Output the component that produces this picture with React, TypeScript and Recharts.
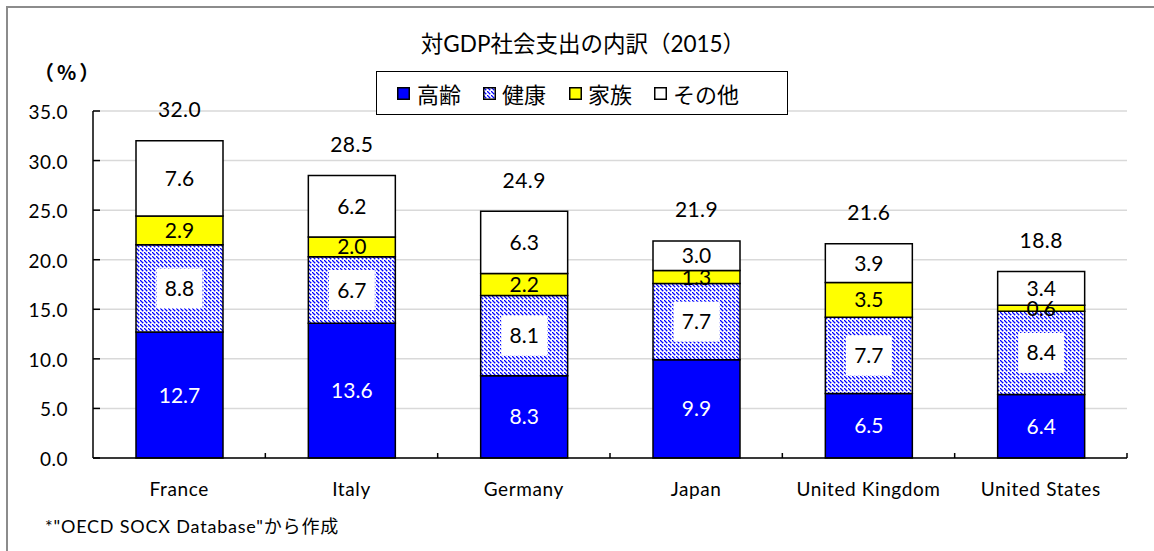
import React from 'react';
import { BarChart, Bar, XAxis, YAxis, CartesianGrid, LabelList } from 'recharts';

// 対GDP社会支出の内訳（2015）, % of GDP
const categories = ['France', 'Italy', 'Germany', 'Japan', 'United Kingdom', 'United States'];
const elderly = [12.7, 13.6, 8.3, 9.9, 6.5, 6.4]; // 高齢
const health = [8.8, 6.7, 8.1, 7.7, 7.7, 8.4]; // 健康
const family = [2.9, 2.0, 2.2, 1.3, 3.5, 0.6]; // 家族
const other = [7.6, 6.2, 6.3, 3.0, 3.9, 3.4]; // その他
const seriesNames = ['高齢', '健康', '家族', 'その他'];
const yTicks = [0, 5, 10, 15, 20, 25, 30, 35];

const data = categories.map((name, i) => ({
  name,
  elderly: elderly[i],
  health: health[i],
  family: family[i],
  other: other[i],
  total: elderly[i] + health[i] + family[i] + other[i],
}));

const FONT = "Lato, 'Noto Sans CJK JP', sans-serif";
const JP = "'Noto Sans CJK JP', sans-serif";

const W = 1146;
const H = 543;
const xAxisHeight = 30;
const margin = { top: 103, right: 27, bottom: 93 - xAxisHeight, left: 0 };
const yAxisWidth = 85;
const plotWidth = W - margin.left - margin.right - yAxisWidth;
const band = plotWidth / categories.length;

const segLabel = (color: string, boxed: boolean) => (props: any) => {
  const { x, y, width, height, value } = props;
  const cx = x + width / 2;
  const cy = y + height / 2;
  return (
    <g>
      {boxed && <rect x={cx - 23} y={cy - 20} width={46} height={40} fill="#fff" />}
      <text
        x={cx}
        y={cy}
        dy="0.36em"
        textAnchor="middle"
        fill={color}
        fontSize={21}
        fontFamily={FONT}
      >
        {Number(value).toFixed(1)}
      </text>
    </g>
  );
};

const totalLabel = (props: any) => {
  const { x, y, width, value } = props;
  return (
    <text
      x={x + width / 2}
      y={y - 31}
      dy="0.36em"
      textAnchor="middle"
      fill="#000"
      fontSize={21}
      letterSpacing={0.4}
      fontFamily={FONT}
    >
      {Number(value).toFixed(1)}
    </text>
  );
};

const XTick = (props: any) => {
  const { x, y, payload } = props;
  return (
    <g>
      <line x1={x + band / 2} x2={x + band / 2} y1={y} y2={y - 5} stroke="#000" strokeWidth={1.5} />
      <text
        x={x}
        y={y + 38}
        textAnchor="middle"
        fill="#000"
        fontSize={19}
        letterSpacing={0.6}
        fontFamily={FONT}
      >
        {payload.value}
      </text>
    </g>
  );
};

const YTick = (props: any) => {
  const { x, y, payload } = props;
  return (
    <g>
      <line x1={x} x2={x + 7} y1={y} y2={y} stroke="#000" strokeWidth={1.5} />
      <text
        x={x - 25}
        y={y}
        dy="0.42em"
        textAnchor="end"
        fill="#000"
        fontSize={19}
        letterSpacing={0.5}
        fontFamily={FONT}
      >
        {Number(payload.value).toFixed(1)}
      </text>
    </g>
  );
};

const swatches = ['#0000ff', 'url(#hatch)', '#ffff00', '#ffffff'];
const swatchX = [20, 106, 192, 277];
const textX = [40, 125, 211, 296];

const LegendBox = () => (
  <div
    style={{
      position: 'absolute',
      left: 368,
      top: 63,
      width: 412,
      height: 44,
      border: '1.5px solid #000',
      boxSizing: 'border-box',
      background: '#fff',
      fontFamily: JP,
      fontSize: 22,
    }}
  >
    {seriesNames.map((n, i) => (
      <React.Fragment key={n}>
        <svg width={13} height={13} style={{ position: 'absolute', left: swatchX[i], top: 14.5 }}>
          <rect x={0.75} y={0.75} width={11.5} height={11.5} fill={swatches[i]} stroke="#000" strokeWidth={1.5} />
        </svg>
        <span style={{ position: 'absolute', left: textX[i], top: 0, lineHeight: '42px' }}>{n}</span>
      </React.Fragment>
    ))}
  </div>
);

export default function App() {
  return (
    <div style={{ position: 'relative', width: 1154, height: 551, overflow: 'hidden', background: '#fff' }}>
      <style>{'body{margin:0}'}</style>
      <svg width={0} height={0} style={{ position: 'absolute' }}>
        <defs>
          <pattern id="hatch" patternUnits="userSpaceOnUse" width={4} height={4}>
            <rect width={4} height={4} fill="#fff" />
            <rect x={0} y={0} width={1.4} height={1.4} fill="#0000ff" />
            <rect x={1} y={1} width={1.4} height={1.4} fill="#0000ff" />
            <rect x={2} y={2} width={1.4} height={1.4} fill="#0000ff" />
          </pattern>
        </defs>
      </svg>
      <div
        style={{
          position: 'absolute',
          left: 6,
          top: 6,
          width: 1148,
          height: 545,
          borderTop: '2px solid #8c8c8c',
          borderLeft: '2px solid #8c8c8c',
          boxSizing: 'border-box',
        }}
      />
      <div style={{ position: 'absolute', left: 8, top: 8, width: W, height: H }}>
        <BarChart width={W} height={H} data={data} margin={margin} barSize={87}>
          <CartesianGrid vertical={false} stroke="#d9d9d9" strokeWidth={1.5} />
          <XAxis
            dataKey="name"
            height={xAxisHeight}
            axisLine={{ stroke: '#000', strokeWidth: 1.5 }}
            tickLine={false}
            tickSize={0}
            tickMargin={0}
            tick={<XTick />}
            interval={0}
          />
          <YAxis
            width={yAxisWidth}
            domain={[0, 35]}
            ticks={yTicks}
            axisLine={{ stroke: '#000', strokeWidth: 1.5 }}
            tickLine={false}
            tickSize={0}
            tickMargin={0}
            tick={<YTick />}
            interval={0}
          />
          <Bar dataKey="elderly" name={seriesNames[0]} stackId="a" fill="#0000ff" stroke="#000" strokeWidth={1.5} isAnimationActive={false}>
            <LabelList dataKey="elderly" content={segLabel('#fff', false)} />
          </Bar>
          <Bar dataKey="health" name={seriesNames[1]} stackId="a" fill="url(#hatch)" stroke="#000" strokeWidth={1.5} isAnimationActive={false}>
            <LabelList dataKey="health" content={segLabel('#000', true)} />
          </Bar>
          <Bar dataKey="family" name={seriesNames[2]} stackId="a" fill="#ffff00" stroke="#000" strokeWidth={1.5} isAnimationActive={false}>
            <LabelList dataKey="family" content={segLabel('#000', false)} />
          </Bar>
          <Bar dataKey="other" name={seriesNames[3]} stackId="a" fill="#ffffff" stroke="#000" strokeWidth={1.5} isAnimationActive={false}>
            <LabelList dataKey="other" content={segLabel('#000', false)} />
            <LabelList dataKey="total" content={totalLabel} />
          </Bar>
        </BarChart>
        <div
          style={{
            position: 'absolute',
            left: 0,
            top: 22,
            width: 1150,
            textAlign: 'center',
            fontFamily: FONT,
            fontSize: 22.5,
            lineHeight: '28px',
            color: '#000',
          }}
        >
          対GDP社会支出の内訳（2015）
        </div>
        <div
          style={{
            position: 'absolute',
            left: 26,
            top: 51,
            fontFamily: JP,
            fontSize: 20,
            fontWeight: 'bold',
            letterSpacing: 3,
            lineHeight: '26px',
          }}
        >
          （%）
        </div>
        <LegendBox />
        <div
          style={{
            position: 'absolute',
            left: 37,
            top: 506,
            fontFamily: FONT,
            fontSize: 18,
            letterSpacing: 0.8,
            lineHeight: '24px',
          }}
        >
          *"OECD SOCX Database"から作成
        </div>
      </div>
    </div>
  );
}
